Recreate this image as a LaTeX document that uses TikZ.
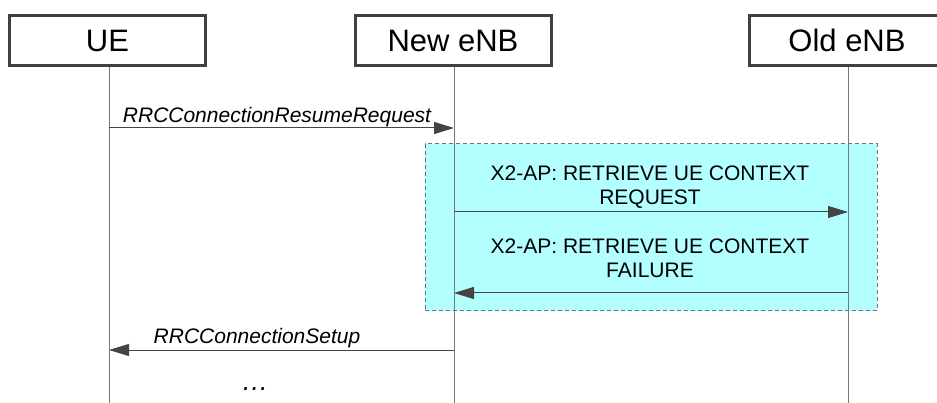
\documentclass[tikz,border=0pt]{standalone}
\usepackage{fontspec}
\setmainfont{Liberation Sans}
\usetikzlibrary{arrows.meta}
\definecolor{boxline}{HTML}{404040}
\definecolor{lifeline}{HTML}{777777}
\definecolor{arrowcol}{HTML}{444444}
\definecolor{cyanfill}{HTML}{B3FFFF}
\definecolor{dashcol}{HTML}{6A7676}
\tikzset{
  entity/.style={draw=boxline, line width=3pt, fill=white, minimum width=196pt, minimum height=50pt, inner sep=0pt, font=\fontsize{31}{36}\selectfont},
  lifel/.style={draw=lifeline, line width=1pt},
  msg/.style={draw=arrowcol, line width=1pt, -{Triangle[length=20pt,width=12pt]}, arrowcol},
  msglabel/.style={font=\fontsize{21}{25}\selectfont, inner sep=0pt, anchor=base},
  grp/.style={draw=dashcol, dashed, dash pattern=on 4pt off 3pt, line width=1pt, fill=cyanfill}
}
\begin{document}
\begin{tikzpicture}[x=1pt,y=-1pt]
\useasboundingbox (0,0) rectangle (937,403);
\clip (0,0) rectangle (937,403);
\fill[white] (0,0) rectangle (937,403);
% group box
\node[grp, minimum width=452pt, minimum height=167pt, inner sep=0pt] (grp) at (651,227.5) {};
% entities
\node[entity] (ue) at (107.5,40.5) {UE};
\node[entity] (newenb) at (453,40.5) {New eNB};
\node[entity] (oldenb) at (847,40.5) {Old eNB};
% lifeline ends
\coordinate (ueend) at (109,403);
\coordinate (newend) at (454,403);
\coordinate (oldend) at (848,403);
\draw[lifel] (ue.south -| ueend) -- (ueend);
\draw[lifel] (newenb.south -| newend) -- (newend);
\draw[lifel] (oldenb.south -| oldend) -- (oldend);
% message points
\coordinate (ua) at (109,128);   \coordinate (na) at (454,128);
\coordinate (nb) at (454,212);   \coordinate (ob) at (848,212);
\coordinate (oc) at (848,293);   \coordinate (nc) at (454,293);
\coordinate (nd) at (454,350);   \coordinate (ud) at (109,350);
\draw[msg] (ua) -- (na);
\node[msglabel, font=\fontsize{21}{25}\selectfont\itshape] (l1) at (277,123) {RRCConnectionResumeRequest};
\draw[msg] (nb) -- (ob);
\node[msglabel] (l2a) at (650,181) {X2-AP: RETRIEVE UE CONTEXT};
\node[msglabel] (l2b) at (650,205) {REQUEST};
\draw[msg] (oc) -- (nc);
\node[msglabel] (l3a) at (650,254) {X2-AP: RETRIEVE UE CONTEXT};
\node[msglabel] (l3b) at (650,278) {FAILURE};
\draw[msg] (nd) -- (ud);
\node[msglabel, font=\fontsize{21}{25}\selectfont\itshape] (l4) at (257,343) {RRCConnectionSetup};
\node[msglabel, font=\fontsize{27}{30}\selectfont\itshape] (dots) at (255,390) {…};
\end{tikzpicture}
\end{document}
